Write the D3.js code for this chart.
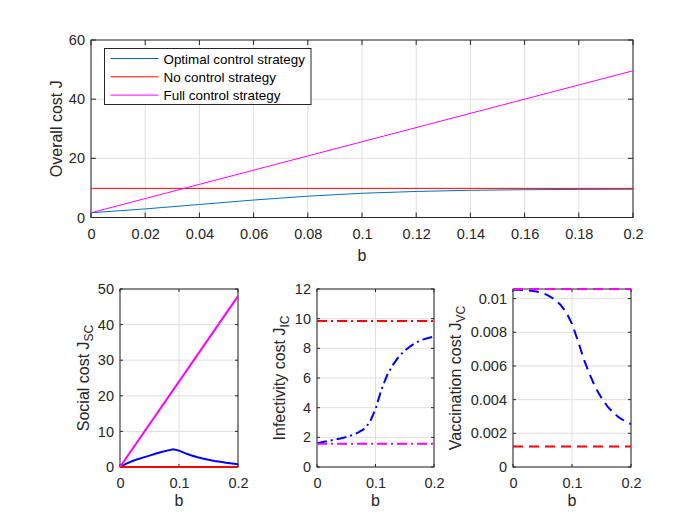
<!DOCTYPE html>
<html>
<head>
<meta charset="utf-8">
<script src="https://cdn.jsdelivr.net/npm/d3@7"></script>
<style>
  body { margin: 0; background: #fff; }
  svg { display: block; font-family: "Liberation Sans", Arial, sans-serif; }
</style>
</head>
<body>
<svg id="chart" width="700" height="525"></svg>
<script>
// values
const bTop = [0, 0.02, 0.04, 0.06, 0.08, 0.1, 0.12, 0.14, 0.16, 0.18, 0.2];
const overallOptimal = [1.6, 2.9, 4.4, 5.9, 7.2, 8.2, 8.8, 9.2, 9.4, 9.5, 9.55];
const overallNone = [9.85, 9.85];
const overallFull = [1.6, 49.6];
const bEnds = [0, 0.2];

const bSub = [0, 0.01, 0.02, 0.03, 0.04, 0.05, 0.06, 0.07, 0.08, 0.09, 0.1,
  0.11, 0.12, 0.13, 0.14, 0.15, 0.16, 0.17, 0.18, 0.19, 0.2];
const socialOptimal = [0, 0.9, 1.6, 2.2, 2.7, 3.2, 3.7, 4.2, 4.6, 4.95, 4.6,
  3.9, 3.3, 2.8, 2.4, 2.05, 1.7, 1.45, 1.2, 1.0, 0.8];
const socialNone = [0, 0];
const socialFull = [0, 48];
const infectOptimal = [1.6, 1.68, 1.76, 1.84, 1.92, 2.02, 2.15, 2.32, 2.55, 3.0, 3.9,
  5.2, 6.2, 6.9, 7.45, 7.85, 8.15, 8.4, 8.58, 8.7, 8.8];
const infectNone = [9.85, 9.85];
const infectFull = [1.57, 1.57];
const vaccOptimal = [0.01053, 0.01052, 0.0105, 0.01047, 0.01042, 0.01033, 0.01018, 0.00997, 0.00965, 0.0092, 0.0085,
  0.0075, 0.0064, 0.0055, 0.0047, 0.0041, 0.0036, 0.00322, 0.00293, 0.00272, 0.00255];
const vaccNone = [0.00122, 0.00122];
const vaccFull = [0.01057, 0.01057];

const legendLabels = ["Optimal control strategy", "No control strategy", "Full control strategy"];
const topColors = ["#0072BD", "#FF0000", "#FF00FF"];

const svg = d3.select("#chart");
const axisColor = "#262626";
const gridColor = "#dfdfdf";

const drawPanel = (cfg) => {
  const x = d3.scaleLinear().domain([0, 0.2]).range([cfg.left, cfg.right]);
  const y = d3.scaleLinear().domain(cfg.yDomain).range([cfg.bottom, cfg.top]);
  const g = svg.append("g");

  // grid
  g.append("g").selectAll("line").data(cfg.xTicks).enter().append("line")
    .attr("x1", d => x(d)).attr("x2", d => x(d))
    .attr("y1", cfg.top).attr("y2", cfg.bottom)
    .style("stroke", gridColor).style("stroke-width", 1);
  g.append("g").selectAll("line").data(cfg.yTicks).enter().append("line")
    .attr("x1", cfg.left).attr("x2", cfg.right)
    .attr("y1", d => y(d)).attr("y2", d => y(d))
    .style("stroke", gridColor).style("stroke-width", 1);

  // axes
  const xAxis = d3.axisBottom(x).tickValues(cfg.xTicks).tickSize(0).tickPadding(11)
    .tickFormat(d => d3.format("~g")(d));
  const yAxis = d3.axisLeft(y).tickValues(cfg.yTicks).tickSize(0).tickPadding(6)
    .tickFormat(d => d3.format("~g")(d));
  const gx = g.append("g").attr("transform", `translate(0,${cfg.bottom})`).call(xAxis);
  const gy = g.append("g").attr("transform", `translate(${cfg.left},0)`).call(yAxis);
  [gx, gy].forEach(a => {
    a.select(".domain").remove();
    a.selectAll("text").style("font-size", "14.5px").style("fill", axisColor).style("font-family", null);
  });

  // inward tick marks, like matlab
  const tickLen = cfg.tickLen;
  cfg.xTicks.forEach(t => {
    g.append("line").attr("x1", x(t)).attr("x2", x(t)).attr("y1", cfg.bottom).attr("y2", cfg.bottom - tickLen).style("stroke", axisColor);
    g.append("line").attr("x1", x(t)).attr("x2", x(t)).attr("y1", cfg.top).attr("y2", cfg.top + tickLen).style("stroke", axisColor);
  });
  cfg.yTicks.forEach(t => {
    g.append("line").attr("x1", cfg.left).attr("x2", cfg.left + tickLen).attr("y1", y(t)).attr("y2", y(t)).style("stroke", axisColor);
    g.append("line").attr("x1", cfg.right).attr("x2", cfg.right - tickLen).attr("y1", y(t)).attr("y2", y(t)).style("stroke", axisColor);
  });

  g.append("rect")
    .attr("x", cfg.left).attr("y", cfg.top)
    .attr("width", cfg.right - cfg.left).attr("height", cfg.bottom - cfg.top)
    .style("fill", "none").style("stroke", axisColor).style("stroke-width", 1);

  // lines drawn over the box
  const clipId = "clip" + cfg.id;
  svg.append("clipPath").attr("id", clipId).append("rect")
    .attr("x", cfg.left).attr("y", cfg.top - 2)
    .attr("width", cfg.right - cfg.left).attr("height", cfg.bottom - cfg.top + 4);
  const lineGen = d3.line().x(d => x(d[0])).y(d => y(d[1]));
  cfg.series.forEach(s => {
    g.append("path")
      .datum(s.xs.map((b, i) => [b, s.ys[i]]))
      .attr("d", lineGen)
      .attr("clip-path", `url(#${clipId})`)
      .style("fill", "none")
      .style("stroke", s.color)
      .style("stroke-width", cfg.lineWidth)
      .style("stroke-dasharray", cfg.dash || null);
  });

  // labels
  g.append("text")
    .attr("x", (cfg.left + cfg.right) / 2).attr("y", cfg.bottom + cfg.xLabelGap)
    .attr("text-anchor", "middle")
    .style("font-size", "16px").style("fill", axisColor)
    .text("b");

  const yl = g.append("text")
    .attr("transform", `translate(${cfg.yLabelX},${(cfg.top + cfg.bottom) / 2}) rotate(-90)`)
    .attr("text-anchor", "middle")
    .style("font-size", "16px").style("fill", axisColor);
  yl.append("tspan").text(cfg.yLabel);
  if (cfg.yLabelSub) {
    yl.append("tspan").attr("dy", 4).style("font-size", "12px").text(cfg.yLabelSub);
  }
  return { x, y, g };
};

// top panel: overall cost
drawPanel({
  id: "top", left: 91, right: 633, top: 40, bottom: 217.5,
  yDomain: [0, 60], xTicks: bTop, yTicks: [0, 20, 40, 60],
  tickLen: 5, lineWidth: 1, yLabel: "Overall cost J", yLabelX: 62, xLabelGap: 43,
  series: [
    { xs: bTop, ys: overallOptimal, color: topColors[0] },
    { xs: bEnds, ys: overallNone, color: topColors[1] },
    { xs: bEnds, ys: overallFull, color: topColors[2] }
  ]
});

// legend
const legend = svg.append("g").attr("transform", "translate(104.5,48.5)");
legend.append("rect")
  .attr("width", 206.5).attr("height", 56)
  .style("fill", "#fff").style("stroke", axisColor).style("stroke-width", 1);
const legendItems = legend.selectAll("g.legend-item")
  .data(legendLabels).enter().append("g")
  .attr("class", "legend-item")
  .attr("transform", (d, i) => `translate(0,${10 + i * 18.3})`);
legendItems.append("line")
  .attr("x1", 6).attr("x2", 54).attr("y1", 0).attr("y2", 0)
  .style("stroke", (d, i) => topColors[i]).style("stroke-width", 1);
legendItems.append("text")
  .attr("x", 59).attr("y", 5)
  .style("font-size", "13.4px").style("fill", "#000")
  .text(d => d);

// bottom panels
const subTop = 289, subBottom = 467;
drawPanel({
  id: "social", left: 120, right: 238, top: subTop, bottom: subBottom,
  yDomain: [0, 50], xTicks: [0, 0.1, 0.2], yTicks: [0, 10, 20, 30, 40, 50],
  tickLen: 3, lineWidth: 2, yLabel: "Social cost J", yLabelSub: "SC", yLabelX: 89, xLabelGap: 39,
  series: [
    { xs: bSub, ys: socialOptimal, color: "#0000FF" },
    { xs: bEnds, ys: socialNone, color: "#FF0000" },
    { xs: bEnds, ys: socialFull, color: "#FF00FF" }
  ]
});
drawPanel({
  id: "infect", left: 317, right: 434, top: subTop, bottom: subBottom,
  yDomain: [0, 12], xTicks: [0, 0.1, 0.2], yTicks: [0, 2, 4, 6, 8, 10, 12],
  tickLen: 3, lineWidth: 2, dash: "10,4,2,4", xLabelGap: 39,
  yLabel: "Infectivity cost J", yLabelSub: "IC", yLabelX: 285,
  series: [
    { xs: bSub, ys: infectOptimal, color: "#0000FF" },
    { xs: bEnds, ys: infectNone, color: "#FF0000" },
    { xs: bEnds, ys: infectFull, color: "#FF00FF" }
  ]
});
drawPanel({
  id: "vacc", left: 513, right: 631, top: subTop, bottom: subBottom,
  yDomain: [0, 0.01057], xTicks: [0, 0.1, 0.2], yTicks: [0, 0.002, 0.004, 0.006, 0.008, 0.01],
  tickLen: 3, lineWidth: 2, dash: "10,6", xLabelGap: 39,
  yLabel: "Vaccination cost J", yLabelSub: "VC", yLabelX: 461,
  series: [
    { xs: bSub, ys: vaccOptimal, color: "#0000FF" },
    { xs: bEnds, ys: vaccNone, color: "#FF0000" },
    { xs: bEnds, ys: vaccFull, color: "#FF00FF" }
  ]
});
</script>
</body>
</html>
